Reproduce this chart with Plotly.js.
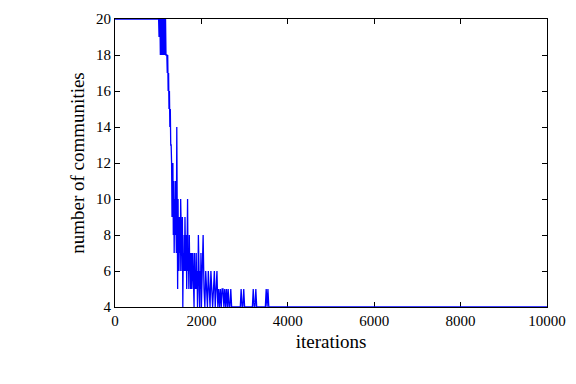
<!DOCTYPE html>
<html>
<head>
<meta charset="utf-8">
<script src="https://cdn.plot.ly/plotly-3.0.1.min.js"></script>
<style>html,body{margin:0;padding:0;background:#fff;}</style>
</head>
<body>
<div id="chart" style="width:576px;height:384px;"></div>
<script>
// Dense part: iterations 1000-1990, one sample every 10 iterations
const denseStart = 1000;
const denseStep = 10;
const denseValues = [
  20,20,19,20,20,18,20,19,18,20,   // 1000-1090
  18,20,19,18,20,18,19,20,18,18,   // 1100-1190
  18,17,18,16,17,15,16,14,15,13,   // 1200-1290
  13,12,9,11,12,8,11,7,10,8,       // 1300-1390
  11,9,7,14,8,5,10,6,9,7,          // 1400-1490
  9,6,10,7,8,6,9,4,7,6,            // 1500-1590
  8,6,9,7,6,8,5,7,10,6,            // 1600-1690
  7,5,8,6,7,5,6,7,5,6,             // 1700-1790
  7,5,6,4,7,5,6,5,7,5,             // 1800-1890
  6,4,5,8,5,6,4,6,5,7              // 1900-1990
];
// Sparse part: iterations 2000-3580, one sample every 20 iterations
const sparseStart = 2000;
const sparseStep = 20;
const sparseValues = [
  4,6,8,5,4,6,5,4,6,5,             // 2000-2180
  4,6,5,4,5,6,4,5,6,4,             // 2200-2380
  5,4,5,4,5,5,4,5,4,5,             // 2400-2580
  4,5,4,4,5,4,4,4,4,4,             // 2600-2780
  4,4,4,4,4,4,5,4,4,5,             // 2800-2980
  4,4,4,4,4,4,4,4,4,4,             // 3000-3180
  5,4,4,5,4,4,4,4,4,4,             // 3200-3380
  4,4,4,4,4,5,4,5,4,4              // 3400-3580
];
const startPoint = {x: 0, y: 20};
const endPoint = {x: 10000, y: 4};

const xTicks = [0, 2000, 4000, 6000, 8000, 10000];
const yTicks = [4, 6, 8, 10, 12, 14, 16, 18, 20];

const xs = [startPoint.x];
const ys = [startPoint.y];
denseValues.forEach((v, i) => { xs.push(denseStart + i * denseStep); ys.push(v); });
sparseValues.forEach((v, i) => { xs.push(sparseStart + i * sparseStep); ys.push(v); });
xs.push(endPoint.x); ys.push(endPoint.y);

const fontFam = 'Liberation Serif, DejaVu Serif, serif';

const trace = {
  x: xs, y: ys, type: 'scatter', mode: 'lines',
  line: {color: '#0000ff', width: 1.3},
  cliponaxis: false,
  hoverinfo: 'none'
};

const layout = {
  width: 576, height: 384,
  margin: {l: 115, r: 29, t: 19, b: 77},
  paper_bgcolor: '#fff', plot_bgcolor: '#fff',
  showlegend: false,
  font: {family: fontFam, color: '#000', size: 15},
  xaxis: {
    range: [0, 10000], tickvals: xTicks, ticktext: xTicks.map(String),
    showgrid: false, zeroline: false,
    showline: true, linecolor: '#000', linewidth: 1, mirror: 'ticks',
    ticks: 'inside', ticklen: 5, tickcolor: '#000',
    tickfont: {family: fontFam, size: 15, color: '#000'},
    title: {text: 'iterations', font: {family: fontFam, size: 19, color: '#000'}, standoff: 6},
    layer: 'below traces'
  },
  yaxis: {
    range: [4, 20], tickvals: yTicks, ticktext: yTicks.map(String),
    showgrid: false, zeroline: false,
    showline: true, linecolor: '#000', linewidth: 1, mirror: 'ticks',
    ticks: 'inside', ticklen: 5, tickcolor: '#000',
    tickfont: {family: fontFam, size: 15, color: '#000'},
    title: {text: 'number of communities', font: {family: fontFam, size: 19, color: '#000'}, standoff: 6},
    layer: 'below traces'
  }
};

Plotly.newPlot('chart', [trace], layout, {staticPlot: true, displayModeBar: false});
</script>
</body>
</html>
